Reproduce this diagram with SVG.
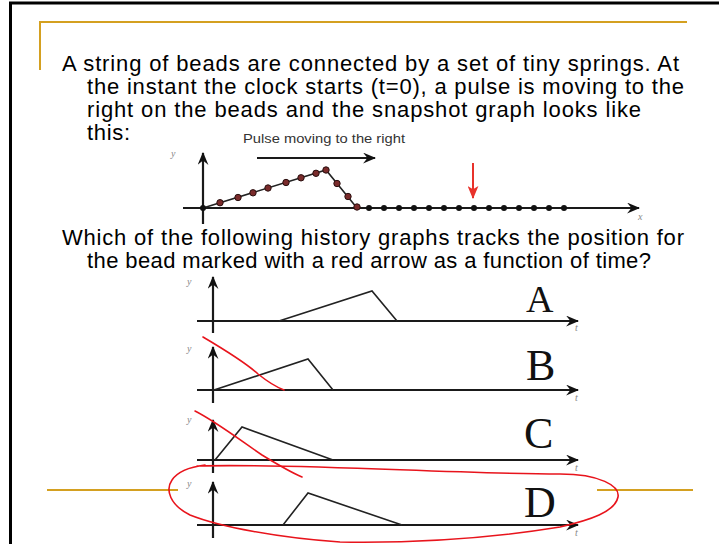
<svg xmlns="http://www.w3.org/2000/svg" width="719" height="544" viewBox="0 0 719 544">
<defs>
<style>
.main{font-family:"Liberation Sans",Arial,sans-serif;font-size:22px;fill:#000}
.small{font-family:"Liberation Sans",Arial,sans-serif;font-size:12px;fill:#333}
.lbl{font-family:"Liberation Serif","Times New Roman",serif;font-size:44px;fill:#111}
.ax{font-family:"Liberation Serif","Times New Roman",serif;font-size:10px;font-style:italic;fill:#888}
.axis{stroke:#1a1a1a;stroke-width:2.2;fill:none}
.pulse{stroke:#222;stroke-width:1.6;fill:none}
.gold{stroke:#D4A020;stroke-width:2;fill:none}
.ink{stroke:#E8141C;stroke-width:1.6;fill:none;stroke-linecap:round}
.bead{fill:#7a2b2b;stroke:#2a1010;stroke-width:1}
.dot{fill:#111}
</style>
<marker id="arr" viewBox="0 0 12 10" refX="11" refY="5" markerWidth="13" markerHeight="11" markerUnits="userSpaceOnUse" orient="auto">
<path d="M0,0 L12,5 L0,10 L4,5 z" fill="#111"/>
</marker>
<marker id="rarr" viewBox="0 0 12 10" refX="11" refY="5" markerWidth="13" markerHeight="11" markerUnits="userSpaceOnUse" orient="auto">
<path d="M0,0 L12,5 L0,10 L3,5 z" fill="#E8322B"/>
</marker>
</defs>
<rect width="719" height="544" fill="#fff"/>
<g id="frame">
<line x1="9" y1="3" x2="719" y2="3" stroke="#000" stroke-width="3"/>
<line x1="10.5" y1="2" x2="10.5" y2="544" stroke="#000" stroke-width="3"/>
<polyline class="gold" points="40,70 40,22 687,22"/>
<line class="gold" x1="47" y1="490" x2="178" y2="490"/>
<line class="gold" x1="597" y1="490" x2="693" y2="490"/>
</g>
<g id="question">
<text class="main" x="62" y="71" textLength="617">A string of beads are connected by a set of tiny springs. At</text>
<text class="main" x="87" y="94" textLength="597">the instant the clock starts (t=0), a pulse is moving to the</text>
<text class="main" x="87" y="117" textLength="554">right on the beads and the snapshot graph looks like</text>
<text class="main" x="87" y="140" textLength="43">this:</text>
<text class="main" x="62" y="245" textLength="622">Which of the following history graphs tracks the position for</text>
<text class="main" x="87" y="268" textLength="564">the bead marked with a red arrow as a function of time?</text>
</g>
<g id="snapshot">
<text class="small" x="243" y="143" textLength="162" lengthAdjust="spacingAndGlyphs">Pulse moving to the right</text>
<line class="axis" x1="257" y1="158" x2="375" y2="158" marker-end="url(#arr)"/>
<line class="axis" x1="203" y1="224" x2="203" y2="153" marker-end="url(#arr)"/>
<line class="axis" x1="183" y1="208" x2="639" y2="208" marker-end="url(#arr)"/>
<text class="ax" x="171" y="157">y</text>
<text class="ax" x="638" y="220">x</text>
<polyline class="pulse" points="203,208 326,170 357,208"/>
<circle class="dot" cx="203" cy="208" r="3"/>
<g class="bead">
<circle cx="220" cy="202.7" r="3.2"/><circle cx="238" cy="197.5" r="3.2"/><circle cx="253" cy="192.8" r="3.2"/><circle cx="268" cy="188" r="3.2"/><circle cx="286" cy="182.5" r="3.2"/><circle cx="301" cy="177.8" r="3.2"/><circle cx="316" cy="173.3" r="3.2"/><circle cx="326" cy="170" r="3.2"/><circle cx="337" cy="183.5" r="3.2"/><circle cx="348" cy="196.5" r="3.2"/><circle cx="357" cy="207" r="3.2"/>
</g>
<g class="dot">
<circle cx="369" cy="208" r="3"/><circle cx="384" cy="208" r="3"/><circle cx="399" cy="208" r="3"/><circle cx="414" cy="208" r="3"/><circle cx="429" cy="208" r="3"/><circle cx="444" cy="208" r="3"/><circle cx="459" cy="208" r="3"/><circle cx="474" cy="208" r="3"/><circle cx="489" cy="208" r="3"/><circle cx="504" cy="208" r="3"/><circle cx="519" cy="208" r="3"/><circle cx="534" cy="208" r="3"/><circle cx="549" cy="208" r="3"/><circle cx="564" cy="208" r="3"/>
</g>
<line x1="473" y1="163" x2="473" y2="198" stroke="#E8322B" stroke-width="2" marker-end="url(#rarr)"/>
</g>
<g id="graphA">
<line class="axis" x1="213" y1="333" x2="213" y2="277" marker-end="url(#arr)"/>
<line class="axis" x1="197" y1="321" x2="578" y2="321" marker-end="url(#arr)"/>
<text class="ax" x="187" y="285">y</text>
<text class="ax" x="575" y="331">t</text>
<polyline class="pulse" points="279,321 372,291 397,321"/>
<text class="lbl" x="526" y="312" style="font-size:38px">A</text>
</g>
<g id="graphB">
<line class="axis" x1="213" y1="403" x2="213" y2="347" marker-end="url(#arr)"/>
<line class="axis" x1="197" y1="390" x2="578" y2="390" marker-end="url(#arr)"/>
<text class="ax" x="187" y="352">y</text>
<text class="ax" x="575" y="401">t</text>
<polyline class="pulse" points="214,390 308,359 333,390"/>
<text class="lbl" x="526" y="380">B</text>
</g>
<g id="graphC">
<line class="axis" x1="213" y1="473" x2="213" y2="420" marker-end="url(#arr)"/>
<line class="axis" x1="197" y1="460" x2="578" y2="460" marker-end="url(#arr)"/>
<text class="ax" x="187" y="423">y</text>
<text class="ax" x="575" y="471">t</text>
<polyline class="pulse" points="215,460 242,427 333,460"/>
<text class="lbl" x="524" y="448">C</text>
</g>
<g id="graphD">
<line class="axis" x1="213" y1="538" x2="213" y2="482" marker-end="url(#arr)"/>
<line class="axis" x1="197" y1="525" x2="578" y2="525" marker-end="url(#arr)"/>
<text class="ax" x="187" y="487">y</text>
<text class="ax" x="575" y="536">t</text>
<polyline class="pulse" points="283,525 308,493 402,525"/>
<text class="lbl" x="524" y="517">D</text>
</g>
<g id="annotations">
<path class="ink" d="M203,337 C225,350 245,362 258,374 C268,382 276,387 284,390"/>
<path class="ink" d="M195,411 C215,421 240,440 262,455 C280,466 290,472 302,477"/>
<path class="ink" d="M197,466 C300,463 450,474 560,474 C600,474 620,486 618,497 C615,512 590,520 560,527 C480,540 400,543 340,542 C280,538 220,527 190,515 C170,505 165,490 172,480 C178,471 190,467 205,465"/>
</g>
</svg>
